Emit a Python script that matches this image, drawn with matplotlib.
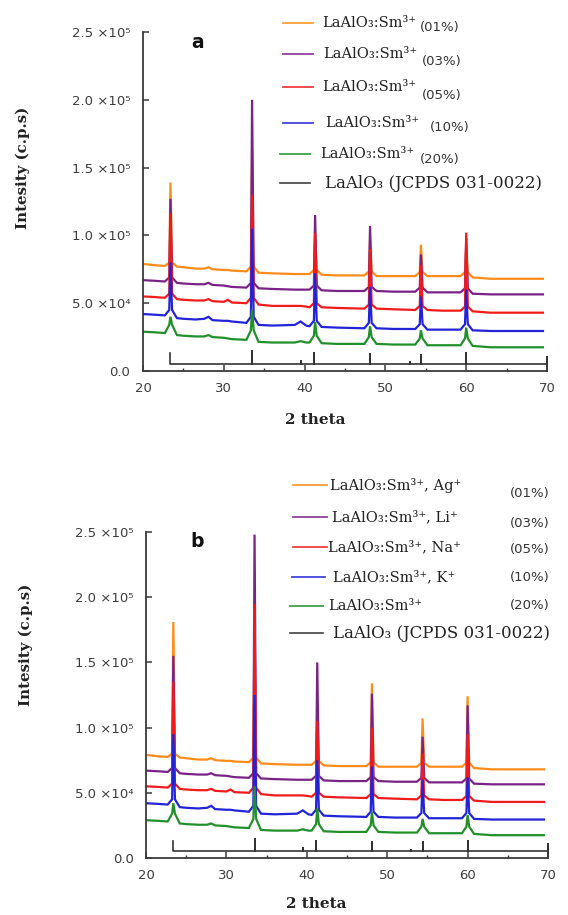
import numpy as np
import matplotlib

matplotlib.use("Agg")
import matplotlib.pyplot as plt
from matplotlib.ticker import MultipleLocator

W, H = 568, 915  # output size in pixels (dpi 100)

# 2-theta positions of the baseline knots (shared by both panels)
KNOTS = [20, 21.5, 22.7, 23.25, 23.6, 24.2, 25, 26.5, 27.6, 28.1, 28.6,
         30.0, 30.5, 31, 32.8, 33.35, 33.7, 34.3, 36, 38.8, 39.5, 40.2,
         40.6, 41.15, 41.5, 42.1, 44, 47.4, 47.95, 48.3, 48.9, 51, 53.7,
         54.25, 54.6, 55.2, 57, 59.3, 59.85, 60.2, 60.8, 63, 69.5]
# main reflections
PEAKS = [23.4, 33.5, 41.3, 48.1, 54.4, 60.0]

# baseline intensity at each knot, units of 1e5 c.p.s
BASE_01 = [.79, .78, .775, .80, .80, .77, .765, .755, .755, .765, .75,
           .745, .745, .74, .735, .77, .77, .725, .72, .715, .715, .715,
           .715, .745, .745, .71, .705, .705, .735, .735, .70, .70, .70,
           .73, .73, .70, .70, .70, .73, .73, .69, .68, .68]
BASE_03 = [.67, .665, .66, .69, .69, .65, .645, .64, .64, .65, .635,
           .63, .625, .62, .615, .65, .65, .61, .605, .60, .60, .60,
           .60, .63, .63, .595, .59, .59, .62, .62, .59, .585, .585,
           .615, .615, .58, .58, .58, .61, .61, .57, .565, .565]
BASE_05 = [.55, .545, .54, .57, .57, .53, .525, .52, .52, .53, .515,
           .51, .525, .505, .50, .54, .54, .49, .48, .48, .48, .475,
           .47, .50, .50, .47, .465, .46, .49, .49, .46, .455, .45,
           .48, .48, .45, .445, .445, .475, .475, .44, .43, .43]
BASE_10 = [.42, .415, .41, .45, .45, .39, .385, .38, .385, .40, .375,
           .37, .37, .365, .355, .40, .40, .34, .335, .34, .365, .335,
           .33, .37, .37, .325, .32, .315, .355, .355, .315, .31, .31,
           .345, .345, .305, .305, .305, .345, .345, .30, .295, .295]
BASE_20 = [.29, .285, .28, .34, .34, .265, .26, .255, .255, .265, .25,
           .245, .24, .235, .23, .30, .30, .215, .21, .21, .22, .21,
           .21, .26, .26, .205, .20, .20, .25, .25, .20, .195, .195,
           .24, .24, .19, .19, .19, .24, .24, .185, .175, .175]

# peak apex intensities (1e5 c.p.s), panel a
PEAK_A_01 = [1.39, 1.63, 1.00, 0.97, 0.93, 0.92]
PEAK_A_03 = [1.27, 2.00, 1.15, 1.07, 0.86, 0.98]
PEAK_A_05 = [1.16, 1.30, 1.02, 0.90, 0.78, 1.02]
PEAK_A_10 = [0.80, 1.05, 0.72, 0.62, 0.55, 0.60]
PEAK_A_20 = [0.40, 0.45, 0.36, 0.33, 0.30, 0.32]
# panel b
PEAK_B_01 = [1.81, 1.60, 1.10, 1.34, 1.07, 1.24]
PEAK_B_03 = [1.55, 2.48, 1.50, 1.26, 0.93, 1.17]
PEAK_B_05 = [1.35, 1.95, 1.05, 1.00, 0.80, 0.95]
PEAK_B_10 = [0.95, 1.25, 0.75, 0.70, 0.60, 0.62]
PEAK_B_20 = [0.42, 0.55, 0.38, 0.35, 0.30, 0.33]

# JCPDS 031-0022 stick pattern (units of 1e4 c.p.s)
STICK_POS = [23.3, 33.5, 39.5, 41.2, 48.1, 53.0, 54.4, 60.0]
STICK_TOP = [1.30, 1.45, 0.75, 1.30, 1.25, 0.65, 1.20, 1.30]
STICK_BASE = 0.55
STICK_END = 70.0
STICK_END_TOP = 1.05

COLORS = ["#ff8c1a", "#7a2387", "#f21b1b", "#2323d8", "#21902a"]
REF_COLOR = "#333333"

LABELS_A = ["LaAlO\u2083:Sm\u00b3\u207a"] * 5
LABELS_B = ["LaAlO\u2083:Sm\u00b3\u207a, Ag\u207a", "LaAlO\u2083:Sm\u00b3\u207a, Li\u207a",
            "LaAlO\u2083:Sm\u00b3\u207a, Na\u207a", "LaAlO\u2083:Sm\u00b3\u207a, K\u207a",
            "LaAlO\u2083:Sm\u00b3\u207a"]
REF_LABEL = "LaAlO\u2083 (JCPDS 031-0022)"
PCT = ["(01%)", "(03%)", "(05%)", "(10%)", "(20%)"]

Y_TICKS = [0, 0.5e5, 1.0e5, 1.5e5, 2.0e5, 2.5e5]
Y_TICK_LABELS = ["0.0", "5.0 \u00d710\u2074", "1.0 \u00d710\u2075",
                 "1.5 \u00d710\u2075", "2.0 \u00d710\u2075", "2.5 \u00d710\u2075"]
X_TICKS = [20, 30, 40, 50, 60, 70]

SERIF = ["DejaVu Serif"]
SANS = ["DejaVu Sans"]


def px(x, y):
    """pixel position -> figure fraction"""
    return x / W, 1 - y / H


def trace(base, peaks):
    x = np.array(KNOTS + PEAKS, dtype=float)
    y = np.array(base + peaks, dtype=float)
    order = np.argsort(x, kind="stable")
    return x[order], y[order] * 1e5


def sticks():
    xs, ys = [], []
    for p, t in zip(STICK_POS, STICK_TOP):
        xs += [p, p, p]
        ys += [STICK_BASE, t, STICK_BASE]
    xs += [STICK_END, STICK_END, STICK_END]
    ys += [STICK_BASE, STICK_END_TOP, 0.0]
    return np.array(xs[1:]), np.array(ys[1:]) * 1e4


def panel(fig, rect, peak_sets, letter, letter_x, ylab_pos, xlab_pos):
    ax = fig.add_axes(rect)
    bases = [BASE_01, BASE_03, BASE_05, BASE_10, BASE_20]
    for base, pk, c in zip(bases, peak_sets, COLORS):
        x, y = trace(base, pk)
        ax.plot(x, y, color=c, lw=1.6, solid_joinstyle="miter")
    sx, sy = sticks()
    ax.plot(sx, sy, color=REF_COLOR, lw=1.2, clip_on=False)

    ax.set_xlim(20, 70)
    ax.set_ylim(0, 2.5e5)
    for s in ("top", "right"):
        ax.spines[s].set_visible(False)
    for s in ("left", "bottom"):
        ax.spines[s].set_color("#3a3a3a")
        ax.spines[s].set_linewidth(1.3)
    ax.set_xticks(X_TICKS)
    ax.xaxis.set_minor_locator(MultipleLocator(5))
    ax.set_yticks(Y_TICKS)
    ax.set_yticklabels(Y_TICK_LABELS)
    ax.tick_params(axis="both", which="major", direction="in", length=4,
                   width=1.1, color="#3a3a3a", labelsize=9.5,
                   labelcolor="#3c3c3c")
    ax.tick_params(axis="x", which="minor", direction="in", length=2,
                   width=1.0, color="#3a3a3a")
    ax.tick_params(axis="y", pad=9)
    ax.tick_params(axis="x", pad=8)
    for lab in ax.get_xticklabels() + ax.get_yticklabels():
        lab.set_family(SANS)

    ax.set_ylabel("Intesity (c.p.s)", family=SERIF, fontweight="bold",
                  fontsize=10.8, color="#222222")
    ax.yaxis.set_label_coords(*ylab_pos)
    ax.set_xlabel("2 theta", family=SERIF, fontweight="bold", fontsize=11,
                  color="#222222")
    ax.xaxis.set_label_coords(*xlab_pos)
    ax.text(letter_x, 0.97, letter, transform=ax.transAxes, fontsize=13.5,
            fontweight="bold", family=SANS, ha="center", va="center",
            color="#111111")
    return ax


def legend(fig, labels, rows):
    # rows: (line y, line x0, line x1, text x, pct x, pct y)
    for i, (ly, x0, x1, tx, pxx, py) in enumerate(rows):
        color = COLORS[i] if i < 5 else REF_COLOR
        fig.add_artist(plt.Line2D([x0 / W, x1 / W], [1 - ly / H] * 2,
                                  color=color, lw=1.3, alpha=0.85))
        if i < 5:
            fig.text(*px(tx, ly), labels[i], family=SERIF, fontsize=10.5,
                     va="center", ha="left", color="#222222")
            fig.text(*px(pxx, py), PCT[i], family=SANS, fontsize=9.5,
                     va="center", ha="left", color="#333333")
        else:
            fig.text(*px(tx, ly), REF_LABEL, family=SERIF, fontsize=12,
                     va="center", ha="left", color="#222222")


fig = plt.figure(figsize=(W / 100, H / 100), dpi=100)
fig.patch.set_facecolor("white")

panel(fig, [143 / W, 1 - 371 / H, 404 / W, 339 / H],
      [PEAK_A_01, PEAK_A_03, PEAK_A_05, PEAK_A_10, PEAK_A_20],
      "a", 0.135, (-0.28, 0.60), (0.426, -0.125))
panel(fig, [146 / W, 1 - 858 / H, 402 / W, 326 / H],
      [PEAK_B_01, PEAK_B_03, PEAK_B_05, PEAK_B_10, PEAK_B_20],
      "b", 0.128, (-0.281, 0.653), (0.423, -0.12))

legend(fig, LABELS_A, [
    (23, 283, 313, 322, 420, 27),
    (54, 283, 313, 323, 422, 62),
    (87, 283, 313, 322, 422, 95),
    (123, 283, 313, 325, 430, 128),
    (154, 280, 310, 320, 420, 159),
    (183, 280, 310, 325, 0, 0),
])
legend(fig, LABELS_B, [
    (485, 293, 327, 330, 510, 493),
    (517, 293, 327, 332, 510, 523),
    (547, 293, 327, 328, 510, 550),
    (577, 292, 325, 333, 510, 577),
    (606, 290, 323, 328, 510, 605),
    (633, 290, 323, 333, 0, 0),
])

fig.savefig("out.png", dpi=100)
